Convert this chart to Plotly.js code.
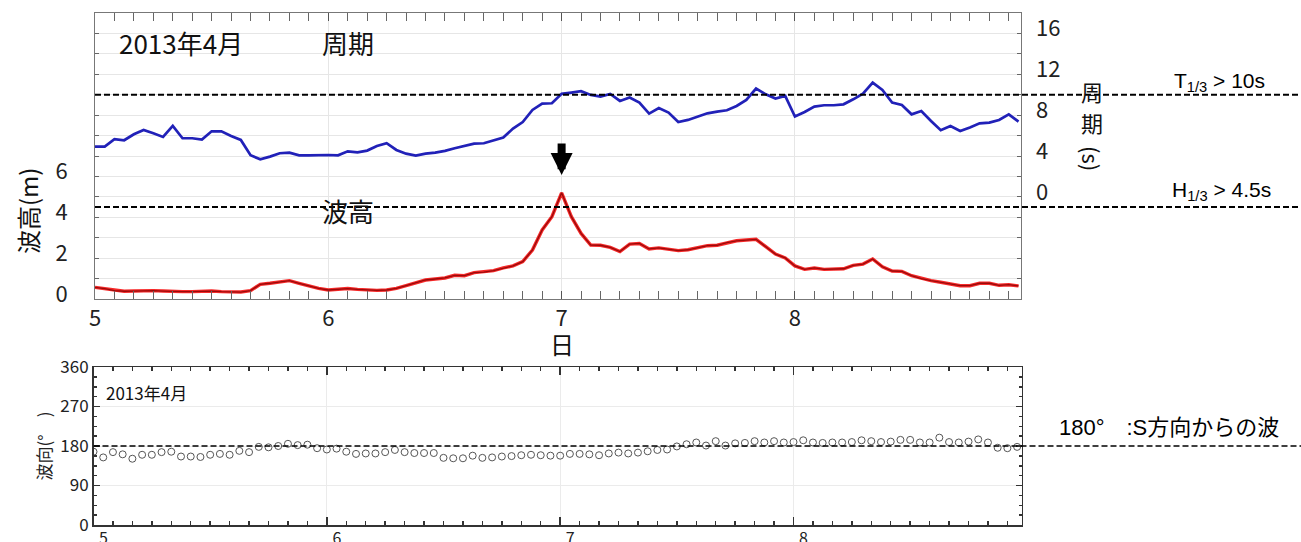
<!DOCTYPE html>
<html>
<head>
<meta charset="utf-8">
<script src="https://cdn.plot.ly/plotly-3.0.1.min.js"></script>
<style>
  html, body { margin: 0; padding: 0; background: #fff; }
  #chart { width: 1301px; height: 542px; }
</style>
</head>
<body>
<div id="chart"></div>
<script>
// Hourly wave observations, 5–8 April 2013 (00:00 … 23:00 each day)
const startDay = 5;
const dayTicks = [5, 6, 7, 8];
const dayLabels = ['5', '6', '7', '8'];

// significant wave height H1/3 (m)
const waveHeight = [
  0.57, 0.51, 0.41, 0.38, 0.39, 0.41, 0.41, 0.39, 0.36, 0.36, 0.36, 0.38, 0.39, 0.36, 0.34, 0.34, 0.41, 0.72, 0.77, 0.85, 0.90, 0.77, 0.64, 0.52,
  0.44, 0.47, 0.51, 0.47, 0.44, 0.42, 0.44, 0.52, 0.65, 0.80, 0.93, 0.98, 1.03, 1.16, 1.14, 1.29, 1.32, 1.39, 1.52, 1.62, 1.83, 2.40, 3.38, 4.03,
  5.20, 4.03, 3.21, 2.64, 2.63, 2.53, 2.32, 2.69, 2.72, 2.45, 2.50, 2.43, 2.37, 2.41, 2.51, 2.61, 2.63, 2.76, 2.85, 2.89, 2.92, 2.56, 2.20, 2.01,
  1.62, 1.45, 1.52, 1.45, 1.45, 1.48, 1.65, 1.71, 1.96, 1.58, 1.37, 1.35, 1.14, 1.00, 0.90, 0.82, 0.73, 0.65, 0.65, 0.77, 0.77, 0.67, 0.70, 0.64
];

// significant wave period T1/3 (s)
const wavePeriod = [
  4.92, 4.92, 5.64, 5.54, 6.13, 6.55, 6.22, 5.87, 6.94, 5.74, 5.74, 5.61, 6.42, 6.42, 5.96, 5.57, 4.07, 3.68, 3.94, 4.27, 4.33, 4.07, 4.07, 4.10,
  4.10, 4.07, 4.46, 4.36, 4.53, 4.98, 5.25, 4.59, 4.23, 4.04, 4.23, 4.33, 4.50, 4.76, 4.98, 5.21, 5.25, 5.54, 5.80, 6.68, 7.33, 8.51, 9.13, 9.16,
  10.08, 10.21, 10.34, 9.98, 9.81, 10.08, 9.39, 9.72, 9.23, 8.15, 8.70, 8.25, 7.33, 7.53, 7.86, 8.18, 8.35, 8.48, 8.90, 9.49, 10.60, 10.04, 9.62, 9.88,
  7.86, 8.31, 8.84, 8.97, 8.97, 9.06, 9.55, 10.11, 11.18, 10.47, 9.23, 9.00, 8.08, 8.41, 7.43, 6.52, 6.94, 6.45, 6.78, 7.20, 7.27, 7.53, 8.08, 7.37
];

// wave direction (degrees, direction the waves come from)
const waveDirection = [
  167, 154, 166, 161, 151, 160, 160, 166, 167, 156, 156, 155, 160, 162, 160, 169, 166, 178, 177, 180, 185, 182, 183, 175,
  172, 174, 167, 162, 163, 163, 166, 171, 166, 164, 164, 164, 153, 152, 152, 158, 153, 154, 156, 157, 159, 160, 159, 158,
  158, 162, 162, 161, 159, 163, 165, 163, 165, 168, 171, 172, 179, 184, 188, 181, 191, 181, 186, 187, 191, 188, 191, 188,
  189, 193, 188, 187, 188, 188, 189, 193, 191, 189, 190, 194, 194, 188, 188, 199, 189, 188, 190, 195, 188, 176, 175, 178
];

// reference levels
const periodThreshold = 10;   // s
const heightThreshold = 4.5;  // m
const southDirection = 180;   // deg

const heightTicks = [0, 2, 4, 6];
const periodTicks = [0, 4, 8, 12, 16];
const directionTicks = [0, 90, 180, 270, 360];

// hourly time stamps in days of the month
const time = waveHeight.map((_, i) => startDay + i / 24);

const JP = '"Noto Sans CJK JP", "Noto Sans", sans-serif';
const LATIN = '"Liberation Sans", Arial, "Noto Sans CJK JP", sans-serif';
const W = 1301, H = 542;
const px = v => v / W;          // horizontal pixel -> paper
const py = v => 1 - v / H;      // vertical pixel -> paper

const topDomainX = [px(95), px(1021)];
const botDomainX = [px(93.5), px(1021.7)];

const traces = [
  {
    x: time, y: wavePeriod, xaxis: 'x', yaxis: 'y2', type: 'scatter', mode: 'lines',
    line: { color: '#2121b8', width: 2.7 }, hoverinfo: 'x+y', name: '周期'
  },
  {
    x: time, y: waveHeight, xaxis: 'x', yaxis: 'y', type: 'scatter', mode: 'lines',
    line: { color: 'rgba(245,30,30,0.95)', width: 3.4 }, hoverinfo: 'skip', name: '波高'
  },
  {
    x: time, y: waveHeight, xaxis: 'x', yaxis: 'y', type: 'scatter', mode: 'lines',
    line: { color: '#9a0a0a', width: 1.3 }, hoverinfo: 'x+y', name: '波高'
  },
  {
    x: time, y: waveDirection, xaxis: 'x2', yaxis: 'y3', type: 'scatter', mode: 'markers',
    marker: { symbol: 'circle-open', size: 7, color: '#555', line: { width: 1, color: '#555' } },
    hoverinfo: 'x+y', name: '波向'
  }
];

const peakIndex = waveHeight.indexOf(Math.max(...waveHeight));

const layout = {
  width: W, height: H,
  margin: { l: 0, r: 0, t: 0, b: 0 },
  paper_bgcolor: '#fff', plot_bgcolor: '#fff',
  showlegend: false,
  font: { family: JP, color: '#222' },

  xaxis: {
    domain: topDomainX, anchor: 'y', range: [5, 8.969],
    tickmode: 'array', tickvals: dayTicks, ticktext: dayLabels,
    ticks: 'inside', ticklen: 8, tickcolor: '#555', tickwidth: 1,
    minor: { dtick: 1 / 12, tick0: 5, ticks: 'inside', ticklen: 4, tickcolor: '#666', showgrid: false },
    showline: true, linecolor: '#777', linewidth: 1, mirror: 'allticks',
    showgrid: true, gridcolor: '#e6e6e6', zeroline: false,
    tickfont: { size: 22, family: JP, color: '#222' },
    automargin: false
  },
  yaxis: {
    domain: [py(299), py(13)], anchor: 'x', range: [0, 14],
    tickmode: 'array', tickvals: heightTicks, ticktext: heightTicks.map(String),
    ticks: 'inside', ticklen: 4, tickcolor: '#666',
    minor: { dtick: 1, tick0: 0, ticks: 'inside', ticklen: 4, tickcolor: '#666', showgrid: true, gridcolor: '#e6e6e6' },
    showline: true, linecolor: '#777', linewidth: 1, mirror: 'allticks',
    showgrid: true, gridcolor: '#e6e6e6', zeroline: false,
    tickfont: { size: 22, family: JP, color: '#222' },
    ticklabelshift: -5, ticklabelstandoff: 22,
    automargin: false
  },
  yaxis2: {
    overlaying: 'y', side: 'right', anchor: 'x', range: [-10, 18],
    tickmode: 'array', tickvals: periodTicks, ticktext: periodTicks.map(String),
    ticks: '', showline: false, showgrid: false, zeroline: false,
    tickfont: { size: 22, family: JP, color: '#222' },
    ticklabelshift: -5, ticklabelstandoff: 14,
    automargin: false
  },

  xaxis2: {
    domain: botDomainX, anchor: 'y3', range: [5, 8.978],
    tickmode: 'array', tickvals: dayTicks, ticktext: dayLabels,
    ticks: 'inside', ticklen: 8, tickcolor: '#333', tickwidth: 1.5,
    minor: { dtick: 1 / 12, tick0: 5, ticks: 'inside', ticklen: 4, tickcolor: '#333', showgrid: false },
    showline: true, linecolor: '#333', linewidth: 1.5, mirror: 'allticks',
    showgrid: true, gridcolor: '#ebebeb', zeroline: false,
    tickfont: { size: 16, family: JP, color: '#222' },
    ticklabelshift: 10, ticklabelstandoff: -2,
    automargin: false
  },
  yaxis3: {
    domain: [py(525), py(367)], anchor: 'x2', range: [0, 360],
    tickmode: 'array', tickvals: directionTicks, ticktext: directionTicks.map(String),
    ticks: 'inside', ticklen: 6, tickcolor: '#333', tickwidth: 1.5,
    minor: { dtick: 22.5, tick0: 0, ticks: 'inside', ticklen: 3, tickcolor: '#333', showgrid: false },
    showline: true, linecolor: '#333', linewidth: 1.5, mirror: 'allticks',
    showgrid: true, gridcolor: '#ebebeb', zeroline: false,
    tickfont: { size: 17, family: JP, color: '#222' },
    title: { text: '波向(°\u3000)', font: { size: 17, family: JP, color: '#222' }, standoff: 4 },
    automargin: false
  },

  shapes: [
    { type: 'line', xref: 'paper', yref: 'y2', x0: topDomainX[0], x1: 1, y0: periodThreshold, y1: periodThreshold,
      line: { color: '#000', width: 2, dash: '6px,3px' } },
    { type: 'line', xref: 'paper', yref: 'y', x0: topDomainX[0], x1: 1, y0: heightThreshold, y1: heightThreshold,
      line: { color: '#000', width: 2, dash: '6px,3px' } },
    { type: 'line', xref: 'paper', yref: 'y3', x0: botDomainX[0], x1: 1, y0: southDirection, y1: southDirection,
      line: { color: '#000', width: 1.6, dash: '6px,3px' } }
  ],

  annotations: [
    { xref: 'paper', yref: 'paper', x: px(117), y: py(42), xanchor: 'left', yanchor: 'middle', showarrow: false,
      text: '2013年4月', font: { size: 26, family: JP, color: '#111' } },
    { xref: 'paper', yref: 'paper', x: px(320), y: py(42), xanchor: 'left', yanchor: 'middle', showarrow: false,
      text: '周期', font: { size: 26, family: JP, color: '#111' } },
    { xref: 'paper', yref: 'paper', x: px(320), y: py(210), xanchor: 'left', yanchor: 'middle', showarrow: false,
      text: '波高', font: { size: 26, family: JP, color: '#111' } },
    { xref: 'paper', yref: 'paper', x: px(28), y: py(211), xanchor: 'center', yanchor: 'middle', showarrow: false,
      textangle: -90, text: '波高(m)', font: { size: 24, family: JP, color: '#111' } },
    // x-axis title of the upper panel
    { xref: 'paper', yref: 'paper', x: px(562), y: py(343), xanchor: 'center', yanchor: 'middle', showarrow: false,
      text: '日', font: { size: 24, family: JP, color: '#111' } },
    // right-axis title, written vertically
    { xref: 'paper', yref: 'paper', x: px(1092), y: py(91), xanchor: 'center', yanchor: 'middle', showarrow: false,
      text: '周', font: { size: 22, family: JP, color: '#111' } },
    { xref: 'paper', yref: 'paper', x: px(1092), y: py(122), xanchor: 'center', yanchor: 'middle', showarrow: false,
      text: '期', font: { size: 22, family: JP, color: '#111' } },
    { xref: 'paper', yref: 'paper', x: px(1092), y: py(158), xanchor: 'center', yanchor: 'middle', showarrow: false,
      textangle: 90, text: '(s)', font: { size: 22, family: JP, color: '#111' } },
    { xref: 'paper', yref: 'paper', x: px(1172), y: py(82), xanchor: 'left', yanchor: 'middle', showarrow: false,
      text: 'T<sub>1/3</sub> > 10s', font: { size: 21, family: LATIN, color: '#000' } },
    { xref: 'paper', yref: 'paper', x: px(1170), y: py(191), xanchor: 'left', yanchor: 'middle', showarrow: false,
      text: 'H<sub>1/3</sub> > 4.5s', font: { size: 21, family: LATIN, color: '#000' } },
    { xref: 'paper', yref: 'paper', x: px(1057), y: py(427), xanchor: 'left', yanchor: 'middle', showarrow: false,
      text: '180°\u3000:S方向からの波', font: { size: 22, family: LATIN, color: '#000' } },
    { xref: 'paper', yref: 'paper', x: px(104), y: py(392), xanchor: 'left', yanchor: 'middle', showarrow: false,
      text: '2013年4月', font: { size: 17, family: JP, color: '#111' } },
    // arrow marking the wave-height peak
    { xref: 'x', yref: 'y', x: time[peakIndex], y: 6.07, text: '', showarrow: true,
      arrowhead: 2, arrowsize: 0.55, arrowwidth: 8, arrowcolor: '#000', standoff: 0,
      axref: 'pixel', ayref: 'pixel', ax: 0, ay: -33 }
  ]
};

Plotly.newPlot('chart', traces, layout, { staticPlot: true, displayModeBar: false });
</script>
</body>
</html>
